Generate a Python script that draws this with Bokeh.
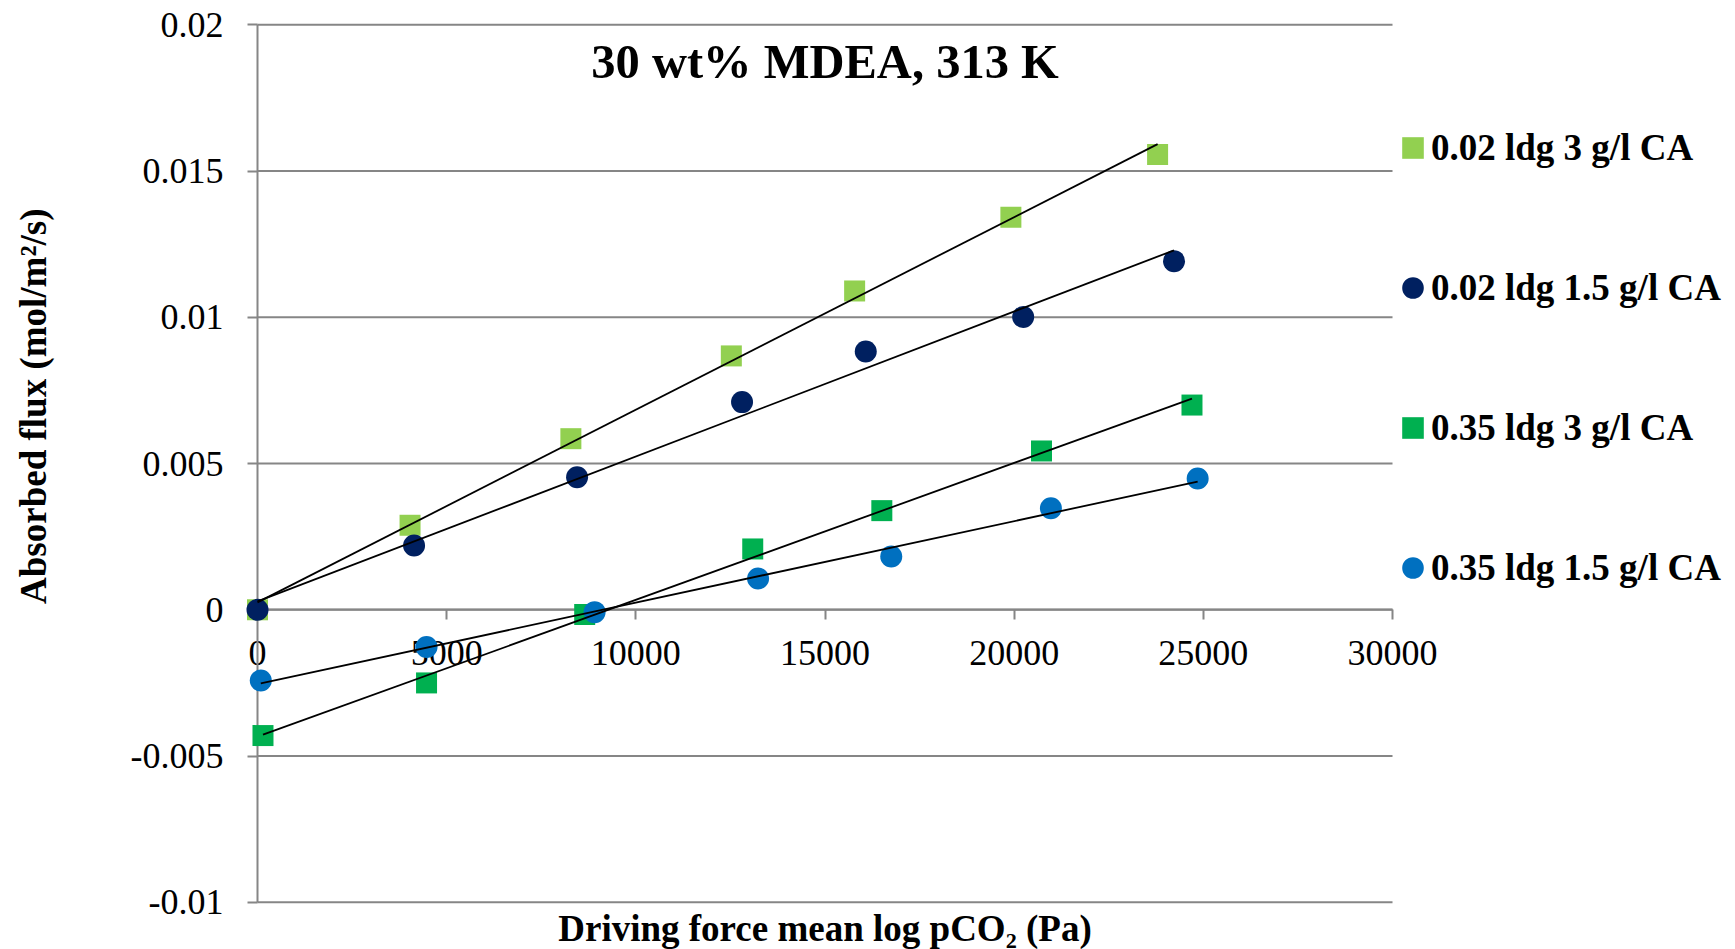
import numpy as np
from bokeh.plotting import figure
from bokeh.models import (Range1d, FixedTicker, CustomJSTickFormatter, Label,
                          Legend, LegendItem)
from bokeh.embed import file_html
from bokeh.resources import INLINE

# ---------------- data ----------------
x_ticks = [0, 5000, 10000, 15000, 20000, 25000, 30000]
y_ticks = [-0.01, -0.005, 0, 0.005, 0.01, 0.015, 0.02]

title_text = "30 wt% MDEA, 313 K"
x_title = "Driving force mean log pCO\u2082 (Pa)"
y_title = "Absorbed flux (mol/m\u00b2/s)"

s1_name = "0.02 ldg 3 g/l CA"
s1_x = [0, 4032, 8283, 12524, 15783, 19913, 23791]
s1_y = [0.0, 0.00289, 0.00585, 0.00868, 0.0109, 0.01342, 0.01557]

s2_name = "0.02 ldg 1.5 g/l CA"
s2_x = [0, 4138, 8447, 12807, 16077, 20238, 24225]
s2_y = [0.0, 0.0022, 0.00453, 0.0071, 0.00883, 0.01001, 0.01192]

s3_name = "0.35 ldg 3 g/l CA"
s3_x = [145, 4468, 8648, 13090, 16502, 20723, 24700]
s3_y = [-0.0043, -0.0025, -0.00016, 0.00208, 0.00339, 0.00543, 0.0070]

s4_name = "0.35 ldg 1.5 g/l CA"
s4_x = [87, 4468, 8910, 13231, 16751, 20971, 24850]
s4_y = [-0.00242, -0.00127, -0.00008, 0.00107, 0.00182, 0.00347, 0.00449]

series = [
    (s1_name, s1_x, s1_y, "square", "#92D050"),
    (s2_name, s2_x, s2_y, "circle", "#002060"),
    (s3_name, s3_x, s3_y, "square", "#00B050"),
    (s4_name, s4_x, s4_y, "circle", "#0070C0"),
]

SERIF = "Liberation Serif"
GRAY = "#868686"

# The frame covers the whole canvas; the data area (0..30000, -0.01..0.02)
# sits inside it, so that axis labels, titles and legend are never clipped.
W, H = 1735, 949
p = figure(width=W, height=H, output_backend="svg", toolbar_location=None,
           x_range=Range1d(-6793, 39066), y_range=Range1d(-0.011614, 0.020831),
           min_border_left=0, min_border_right=0,
           min_border_top=0, min_border_bottom=0)
p.title.visible = False
p.outline_line_color = None
p.background_fill_color = "white"
p.border_fill_color = "white"
p.xgrid.visible = False
p.ygrid.visible = False

# horizontal gridlines spanning the data area only
p.segment(x0=[x_ticks[0]] * len(y_ticks), x1=[x_ticks[-1]] * len(y_ticks),
          y0=y_ticks, y1=y_ticks, line_color=GRAY, line_width=2)

xa = p.xaxis[0]
xa.fixed_location = 0
xa.bounds = (x_ticks[0], x_ticks[-1])
xa.ticker = FixedTicker(ticks=x_ticks)
xa.formatter = CustomJSTickFormatter(code="return String(Math.round(tick));")
ya = p.yaxis[0]
ya.fixed_location = 0
ya.bounds = (y_ticks[0], y_ticks[-1])
ya.ticker = FixedTicker(ticks=y_ticks)
ya.formatter = CustomJSTickFormatter(
    code="return String(Math.round(tick*100000)/100000);")
for ax in (xa, ya):
    ax.level = "underlay"
    ax.axis_line_color = GRAY
    ax.axis_line_width = 2
    ax.major_tick_line_color = GRAY
    ax.major_tick_line_width = 2
    ax.major_tick_out = 10
    ax.major_tick_in = 0
    ax.minor_tick_line_color = None
    ax.major_label_text_font = SERIF
    ax.major_label_text_font_size = "36px"
    ax.major_label_text_color = "black"
xa.major_label_standoff = 21
ya.major_label_standoff = 24

# markers: screen-sized squares (rect) and circles (ellipse)
items = []
for name, xs, ys, marker, color in series:
    if marker == "square":
        r = p.rect(x=xs, y=ys, width=21, height=21, width_units="screen",
                   height_units="screen", fill_color=color, line_color=None)
    else:
        r = p.ellipse(x=xs, y=ys, width=22, height=22, width_units="screen",
                      height_units="screen", fill_color=color, line_color=None)
    items.append(LegendItem(label=name, renderers=[r]))

# linear trendlines (least-squares fit of each series)
for name, xs, ys, marker, color in series:
    k, b = np.polyfit(np.array(xs, float), np.array(ys, float), 1)
    x0, x1 = min(xs), max(xs)
    p.line([x0, x1], [k * x0 + b, k * x1 + b], line_color="black", line_width=1.8)

legend = Legend(items=items, location=(1399, 360),
                label_text_font=SERIF, label_text_font_style="bold",
                label_text_font_size="37px", label_text_color="black",
                glyph_width=27, glyph_height=27, label_height=44,
                label_standoff=5, spacing=96, padding=0, margin=0,
                border_line_alpha=0, background_fill_alpha=0)
p.add_layout(legend)

p.add_layout(Label(x=15000, y=0.01875, text=title_text, text_font=SERIF,
                   text_font_style="bold", text_font_size="48.5px",
                   text_color="black",
                   text_align="center", text_baseline="middle"))
p.add_layout(Label(x=15000, y=-0.010885, text=x_title, text_font=SERIF,
                   text_font_style="bold", text_font_size="37px",
                   text_color="black",
                   text_align="center", text_baseline="middle"))
p.add_layout(Label(x=-5920, y=0.00696, text=y_title, text_font=SERIF,
                   text_font_style="bold", text_font_size="37px",
                   text_color="black",
                   text_align="center", text_baseline="middle", angle=np.pi / 2))

open("out.html", "w").write(file_html(p, INLINE))
